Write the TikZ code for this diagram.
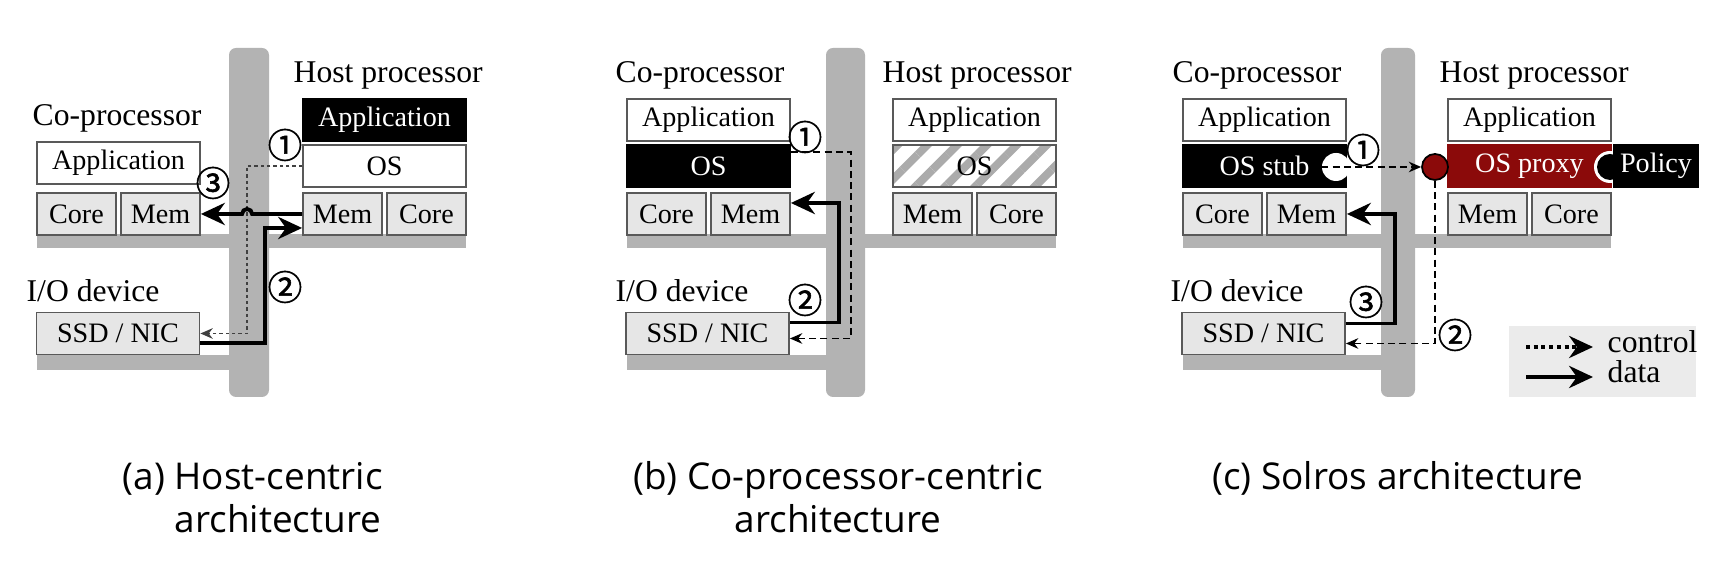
\documentclass[tikz,border=0pt]{standalone}
\usepackage{fontspec}
\setmainfont{Liberation Serif}
\newfontfamily\capfont{Open Sans}
\newfontfamily\numfont{Noto Sans CJK KR}[FakeBold=1.6]
\usetikzlibrary{arrows.meta,calc,patterns.meta}
\definecolor{busgray}{HTML}{B3B3B3}
\definecolor{boxgray}{HTML}{E6E6E6}
\definecolor{stripegray}{HTML}{ABABAB}
\definecolor{proxyred}{HTML}{8B0A0A}
\definecolor{keygray}{HTML}{EBEBEB}
\tikzset{
  hw/.style={draw=black!65, line width=0.5pt, fill=boxgray, inner sep=0pt,
    minimum height=0.42cm, font=\fontsize{8}{8}\selectfont},
  sw/.style={hw, fill=white},
  dark/.style={hw, draw=black, fill=black, text=white},
  small/.style={minimum width=0.79cm},
  wide/.style={minimum width=1.63cm},
  title/.style={inner sep=0pt, anchor=base west, font=\fontsize{9}{9}\selectfont},
  num/.style={inner sep=0pt, font=\numfont\fontsize{9.8}{9.8}\selectfont},
  data/.style={line width=1.1pt, -{Stealth[length=6.8pt,width=6.3pt]}},
  ctrl/.style={line width=0.5pt, dash pattern=on 2pt off 1.2pt,
    -{Stealth[length=3.5pt,width=3pt]}},
  dots/.style={dash pattern=on 1pt off 0.8pt},
  captext/.style={inner sep=0pt, font=\capfont\fontsize{10.5}{12}\selectfont}
}
\begin{document}
\begin{tikzpicture}[x=0.01cm, y=-0.01cm]
  \useasboundingbox (0,0) rectangle (1726,565);
  % buses
  \begin{scope}[busgray]
    \fill (37,234) rectangle (466,248);
    \fill (37,355) rectangle (229,370);
    \fill[rounded corners=2pt] (229,48) rectangle (269,397);
    \fill (627,234) rectangle (1056,248);
    \fill (627,355) rectangle (826,370);
    \fill[rounded corners=2pt] (826,48) rectangle (865,397);
    \fill (1183,234) rectangle (1611,248);
    \fill (1183,355) rectangle (1381,370);
    \fill[rounded corners=2pt] (1381,48) rectangle (1415,397);
  \end{scope}

  % (a) host-centric
  \node[title] (acot) at (32,126) {Co-processor};
  \node[sw,wide] (aapp) at (118.5,163) {Application};
  \node[hw,small] (acore) at (76.5,214) {Core};
  \node[hw,small] (amem) at (160.5,214) {Mem};
  \node[title] (ahost) at (293,83) {Host processor};
  \node[dark,wide] (ahapp) at (384.5,120) {Application};
  \node[sw,wide] (aos) at (384.5,166) {OS};
  \node[hw,small] (ahmem) at (342.5,214) {Mem};
  \node[hw,small] (ahcore) at (426.5,214) {Core};
  \node[title] (aio) at (26,302) {I/O device};
  \node[hw,wide] (assd) at (118,333.5) {SSD / NIC};
  \draw[ctrl,dots,draw=black!75] (aos.west) -- ++(-55,0) |- (assd.east);
  \draw[data] (ahmem.west) -- ++(-50,0) arc[start angle=0, end angle=-180, radius=5] -- (amem.east);
  \draw[data] ($(assd.east)+(0,9.5)$) -- ++(65,0) |- ($(ahmem.west)+(0,14)$);
  \node[num] (an1) at (285,145) {①};
  \node[num] (an2) at (285,287) {②};
  \node[num] (an3) at (213,183) {③};

  % (b) co-processor-centric
  \node[title] (bcot) at (615,83) {Co-processor};
  \node[sw,wide] (bapp) at (708.5,120) {Application};
  \node[dark,wide] (bos) at (708.5,166) {OS};
  \node[hw,small] (bcore) at (666.5,214) {Core};
  \node[hw,small] (bmem) at (750.5,214) {Mem};
  \node[title] (bhost) at (882,83) {Host processor};
  \node[sw,wide] (bhapp) at (974.5,120) {Application};
  \node[sw,wide,pattern={Lines[angle=45,distance=6pt,line width=2.3pt]},
    pattern color=stripegray] (bhos) at (974.5,166) {OS};
  \node[hw,small] (bhmem) at (932.5,214) {Mem};
  \node[hw,small] (bhcore) at (1016.5,214) {Core};
  \node[title] (bio) at (615,302) {I/O device};
  \node[hw,wide] (bssd) at (707.5,333.5) {SSD / NIC};
  \draw[ctrl] ($(bos.east)+(0,-14)$) -- ++(60,0) |- ($(bssd.east)+(0,5)$);
  \draw[data] ($(bssd.east)+(0,-11)$) -- ++(49,0) |- ($(bmem.east)+(0,-11)$);
  \node[num] (bn1) at (805,137) {①};
  \node[num] (bn2) at (805,300) {②};

  % (c) solros
  \node[title] (ccot) at (1172,83) {Co-processor};
  \node[sw,wide] (capp) at (1264.5,120) {Application};
  \node[dark,wide] (cstub) at (1264.5,166) {OS stub};
  \node[circle, fill=white, minimum size=0.28cm, inner sep=0pt] (csock) at (1336,167) {};
  \node[hw,small] (ccore) at (1222.5,214) {Core};
  \node[hw,small] (cmem) at (1306.5,214) {Mem};
  \node[title] (chost) at (1439,83) {Host processor};
  \node[sw,wide] (chapp) at (1529.5,120) {Application};
  \node[hw,wide, draw=proxyred, fill=proxyred, text=white] (cproxy) at (1529.5,166) {OS proxy};
  \node[circle, fill=white, minimum size=0.32cm, inner sep=0pt] (cring) at (1610,167) {};
  \node[dark, minimum width=0.84cm] (cpol) at (1656,166) {Policy};
  \node[circle, fill=black, minimum size=0.26cm, inner sep=0pt] (cball) at (1610,167) {};
  \node[circle, draw=black, line width=0.5pt, fill=proxyred, minimum size=0.26cm, inner sep=0pt] (cport) at (1435,167) {};
  \node[hw,small] (chmem) at (1487.5,214) {Mem};
  \node[hw,small] (chcore) at (1571.5,214) {Core};
  \node[title] (cio) at (1170,302) {I/O device};
  \node[hw,wide] (cssd) at (1263.5,333.5) {SSD / NIC};
  \draw[ctrl] (csock.west) -- (cport.west);
  \draw[ctrl] (cport.south) |- ($(cssd.east)+(0,10)$);
  \draw[data] ($(cssd.east)+(0,-10)$) -- ++(49,0) |- (cmem.east);
  \node[num] (cn1) at (1363,150) {①};
  \node[num] (cn2) at (1455,335) {②};
  \node[num] (cn3) at (1366,302) {③};

  % legend
  \fill[keygray] (1509,326) rectangle (1696,397);
  \node[title] (lctrl) at (1607,353) {control};
  \node[title] (ldata) at (1607,383) {data};
  \coordinate (lc) at (1526,347);
  \coordinate (ld) at (1526,377);
  \draw[line width=0.9pt, dash pattern=on 1.1pt off 1.1pt, -{Stealth[length=6.8pt,width=6.3pt]}] (lc) -- ++(67,0);
  \draw[data] (ld) -- ++(67,0);

  % captions
  \node[captext, anchor=base west] (capa) at (122,490)
    {(a)~\begin{tabular}[t]{@{}l@{}}Host-centric\\architecture\end{tabular}};
  \node[captext, anchor=base] (capb) at (838,490)
    {\begin{tabular}[t]{@{}c@{}}(b) Co-processor-centric\\architecture\end{tabular}};
  \node[captext, anchor=base] (capc) at (1398,490) {(c) Solros architecture};
\end{tikzpicture}
\end{document}
